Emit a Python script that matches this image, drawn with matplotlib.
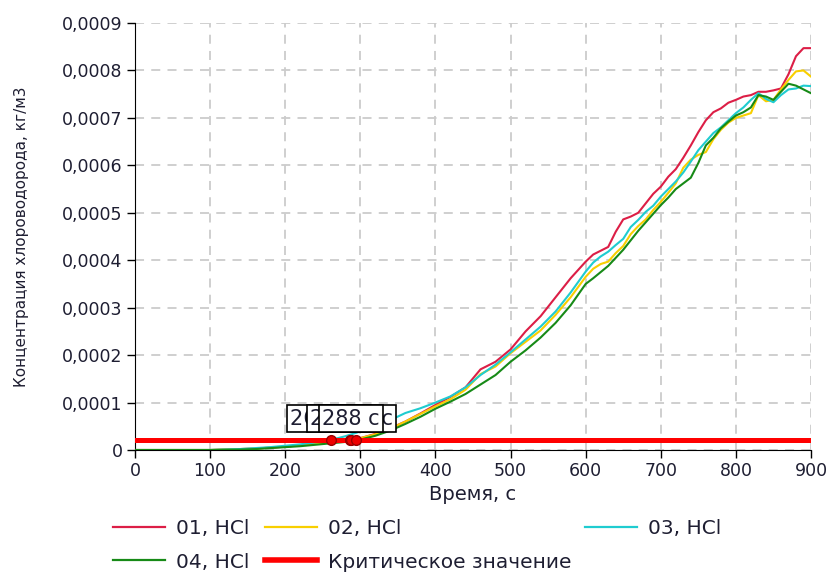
import matplotlib
matplotlib.use("Agg")
import matplotlib.pyplot as plt
from matplotlib.lines import Line2D
from matplotlib.ticker import FuncFormatter, MultipleLocator
import numpy as np

# time, s (20 s steps to 600, then 10 s)
time_s = [0, 20, 40, 60, 80, 100, 120, 140, 160, 180, 200, 220, 240, 260, 280, 300,
          320, 340, 360, 380, 400, 420, 440, 460, 480, 500, 520, 540, 560, 580, 600,
          610, 620, 630, 640, 650, 660, 670, 680, 690, 700, 710, 720, 730, 740, 750,
          760, 770, 780, 790, 800, 810, 820, 830, 840, 850, 860, 870, 880, 890, 900]

# concentrations, 1e-4 kg/m3
hcl_01 = [0, 0, 0, 0, 0, 0, 0.01, 0.02, 0.03, 0.05, 0.07, 0.10, 0.13, 0.16, 0.19, 0.25,
          0.34, 0.46, 0.60, 0.77, 0.95, 1.12, 1.32, 1.70, 1.86, 2.12, 2.50, 2.82, 3.22, 3.62, 3.97,
          4.12, 4.20, 4.28, 4.60, 4.86, 4.92, 5.00, 5.20, 5.40, 5.55, 5.76, 5.92, 6.16, 6.42, 6.70,
          6.95, 7.12, 7.20, 7.32, 7.38, 7.45, 7.48, 7.55, 7.55, 7.58, 7.62, 7.92, 8.30, 8.47, 8.47]
hcl_02 = [0, 0, 0, 0, 0, 0, 0.01, 0.02, 0.03, 0.05, 0.07, 0.10, 0.13, 0.16, 0.19, 0.25,
          0.33, 0.45, 0.60, 0.76, 0.92, 1.07, 1.27, 1.60, 1.76, 2.04, 2.28, 2.52, 2.85, 3.22, 3.65,
          3.82, 3.92, 3.97, 4.15, 4.30, 4.55, 4.72, 4.86, 5.06, 5.23, 5.42, 5.62, 5.95, 6.12, 6.22,
          6.28, 6.55, 6.75, 6.90, 7.00, 7.05, 7.10, 7.48, 7.35, 7.38, 7.60, 7.80, 7.98, 8.00, 7.87]
hcl_03 = [0, 0, 0, 0, 0, 0, 0.01, 0.02, 0.04, 0.06, 0.09, 0.12, 0.16, 0.21, 0.29, 0.39,
          0.50, 0.63, 0.78, 0.88, 1.00, 1.13, 1.32, 1.58, 1.80, 2.06, 2.33, 2.60, 2.92, 3.32, 3.76,
          3.95, 4.08, 4.18, 4.32, 4.45, 4.70, 4.85, 5.02, 5.15, 5.34, 5.50, 5.66, 5.85, 6.08, 6.32,
          6.50, 6.68, 6.80, 6.95, 7.10, 7.22, 7.38, 7.52, 7.40, 7.33, 7.48, 7.60, 7.62, 7.68, 7.67]
hcl_04 = [0, 0, 0, 0, 0, 0, 0.005, 0.01, 0.02, 0.04, 0.06, 0.08, 0.11, 0.14, 0.17, 0.22,
          0.30, 0.41, 0.55, 0.70, 0.87, 1.02, 1.18, 1.38, 1.58, 1.86, 2.10, 2.37, 2.68, 3.05, 3.50,
          3.62, 3.75, 3.88, 4.05, 4.22, 4.42, 4.62, 4.80, 4.98, 5.16, 5.32, 5.50, 5.62, 5.74, 6.05,
          6.42, 6.58, 6.78, 6.92, 7.05, 7.12, 7.22, 7.48, 7.45, 7.38, 7.55, 7.72, 7.68, 7.60, 7.52]

series_labels = ["01, HCl", "02, HCl", "03, HCl", "04, HCl"]
series_colors = ["#DC1E46", "#F8CF00", "#1FCCD0", "#178A17"]

crit_value = 0.000022
crit_label = "Критическое значение"

# times when the critical value is reached
cross_times = [261, 286, 288, 294]
cross_labels = ["261 с", "286 с", "288 с", "294 с"]

TXT = "#1e1e32"
plt.rcParams["font.family"] = ["DejaVu Sans"]

fig = plt.figure(figsize=(8.35, 5.72), dpi=100)
ax = fig.add_axes([135 / 835, 1 - 450 / 572, 676 / 835, 427 / 572])

t = np.array(time_s)
for vals, lab, col in zip([hcl_01, hcl_02, hcl_03, hcl_04], series_labels, series_colors):
    ax.plot(t, np.array(vals) * 1e-4, color=col, linewidth=1.5, label=lab, zorder=3)

ax.axhline(crit_value, color="#FF0000", linewidth=3.6, zorder=4)

ax.plot(cross_times, [crit_value] * len(cross_times), "o", color="#EE0000",
        markeredgecolor="#990000", markersize=7, zorder=5)

# label boxes overlap, the 288 s one sits on top
box_dx = [-41, -40, -29, -21]
box_z = [6, 7, 9, 8]
for tc, txt, dx, z in zip(cross_times, cross_labels, box_dx, box_z):
    ax.annotate(txt, (tc, crit_value), xytext=(dx, 21), textcoords="offset pixels",
                ha="left", va="center", fontsize=15, color=TXT, zorder=z,
                bbox=dict(boxstyle="square,pad=0.15", fc="white", ec="black", lw=1.2))

ax.set_xlim(0, 900)
ax.set_ylim(0, 0.0009)
ax.xaxis.set_major_locator(MultipleLocator(100))
ax.yaxis.set_major_locator(MultipleLocator(0.0001))
ax.yaxis.set_major_formatter(FuncFormatter(lambda v, p: "0" if abs(v) < 1e-12 else f"{v:.4f}".replace(".", ",")))

ax.spines["top"].set_visible(False)
ax.spines["right"].set_visible(False)
ax.tick_params(direction="out", length=6, width=1, labelsize=12.5, labelcolor=TXT, pad=3)

ax.grid(True, color="#cccccc", linestyle=(0, (5, 4)), linewidth=1.3)
ax.set_axisbelow(True)
ax.get_ygridlines()[-1].set_visible(False)

ax.set_xlabel("Время, с", fontsize=14, color=TXT, labelpad=3)
ax.set_ylabel("Концентрация хлороводорода, кг/м3", fontsize=11, color=TXT, labelpad=24)

handles = [Line2D([], [], color=c, linewidth=1.6) for c in series_colors]
crit_handle = Line2D([], [], color="#FF0000", linewidth=4)
leg_kw = dict(loc="upper left", frameon=False, fontsize=14.5, borderpad=0, borderaxespad=0,
              handlelength=2.6, handletextpad=0.55, labelspacing=0.72, labelcolor=TXT)
fig.legend([handles[0], handles[3]], [series_labels[0], series_labels[3]],
           bbox_to_anchor=(113 / 835, 1 - 519 / 572), **leg_kw)
fig.legend([handles[1], crit_handle], [series_labels[1], crit_label],
           bbox_to_anchor=(265 / 835, 1 - 519 / 572), **leg_kw)
fig.legend([handles[2]], [series_labels[2]],
           bbox_to_anchor=(585 / 835, 1 - 519 / 572), **leg_kw)

fig.savefig("out.png", dpi=100)
